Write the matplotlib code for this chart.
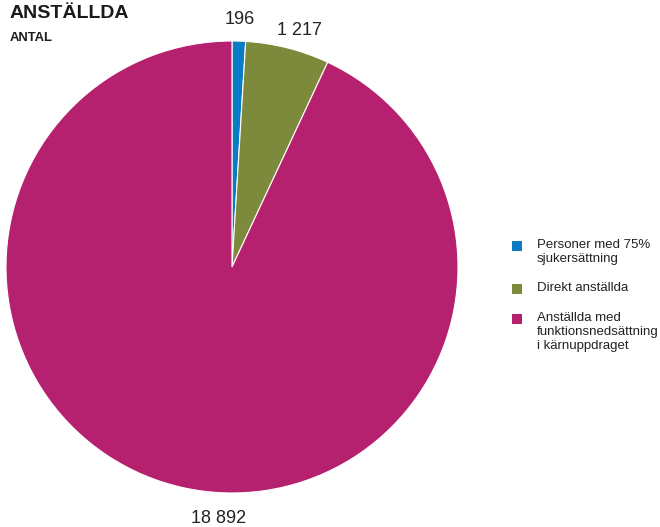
import matplotlib
matplotlib.use("Agg")
import matplotlib.pyplot as plt
from matplotlib.patches import Rectangle
import numpy as np

plt.rcParams['font.family'] = ['Liberation Sans', 'DejaVu Sans']

categories = ["Personer med 75%\nsjukersättning",
              "Direkt anställda",
              "Anställda med\nfunktionsnedsättning\ni kärnuppdraget"]
values = [196, 1217, 18892]
value_labels = ["196", "1 217", "18 892"]
colors = ["#0A7CC4", "#7E8A3B", "#B5206F"]

W, H = 660, 527
fig = plt.figure(figsize=(W / 100, H / 100), dpi=100)

def fx(px):
    return px / W

def fy(py):
    return 1 - py / H

# pie axes: center (232, 267), radius 226 px
cx, cy, r = 232, 267, 226
ax = fig.add_axes([fx(cx - r), fy(cy + r), 2 * r / W, 2 * r / H])
wedges, texts = ax.pie(values, colors=colors, startangle=90, counterclock=False,
                       labels=value_labels, labeldistance=1.095,
                       wedgeprops=dict(edgecolor="white", linewidth=0.8),
                       textprops=dict(fontsize=13, color="#222222"))
for t in texts:
    t.set_ha("center")
    t.set_va("center")
# label placement adjustments as in the original layout
texts[1].set_position((0.30, 1.045))
texts[2].set_position((-0.06, -1.115))
ax.set_xlim(-1, 1)
ax.set_ylim(-1, 1)
ax.set_aspect("auto")
ax.axis("off")

# title
fig.text(fx(10), fy(18.5), "ANSTÄLLDA", fontsize=14, fontweight="bold",
         color="#1a1a1a", va="baseline", ha="left")
fig.text(fx(10), fy(40.7), "ANTAL", fontsize=9.4, fontweight="bold",
         color="#1a1a1a", va="baseline", ha="left")

# legend
entry_tops = [241, 284, 314]
for lab, col, top in zip(categories, colors, entry_tops):
    fig.patches.append(Rectangle((fx(512), fy(top + 10)), fx(10), 10 / H,
                                 transform=fig.transFigure, facecolor=col,
                                 edgecolor="none"))
    fig.text(fx(537), fy(top - 2.4), lab, fontsize=9.5, color="#222222",
             va="top", ha="left", linespacing=1.27)

fig.savefig("out.png", dpi=100)
